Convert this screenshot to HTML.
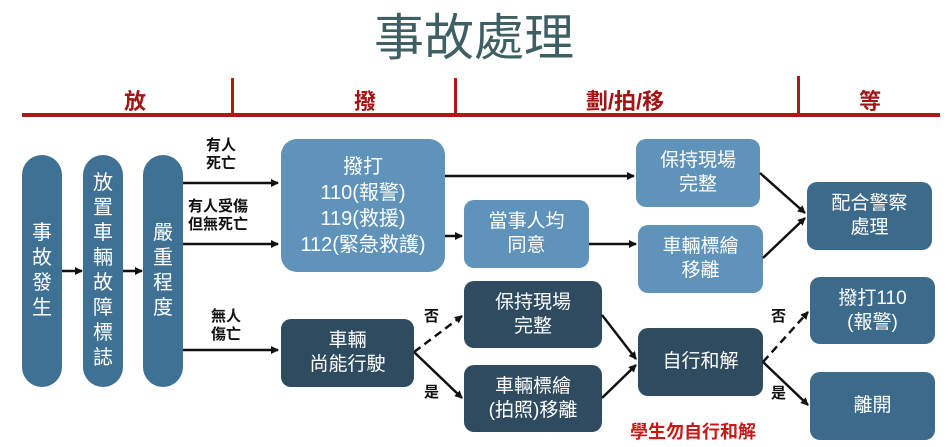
<!DOCTYPE html>
<html><head><meta charset="utf-8"><style>
body{margin:0;width:948px;height:447px;background:#fff;position:relative;overflow:hidden;font-family:"Liberation Sans","Noto Sans CJK TC",sans-serif}
.a{position:absolute}
.b{position:absolute;display:flex;align-items:center;justify-content:center;text-align:center;color:#fff;border-radius:10px;font-size:19px;line-height:24px}
.p{position:absolute;border-radius:20px;background:#3f7194;color:#fff;display:flex;align-items:center;justify-content:center;font-size:20px;line-height:25px;width:40px;text-align:center}
.lt{background:#5f93b9}.dk{background:#2e4b60}.md{background:#3c6a8b}
.lb{position:absolute;font-size:15px;font-weight:bold;line-height:18px;color:#111;text-align:center}
.h{position:absolute;top:84px;font-size:22px;font-weight:bold;color:#a31414;transform:translateX(-50%)}
</style></head><body>
<div class="a" style="left:0;width:948px;top:8px;text-align:center;font-size:50px;color:#3f6063;line-height:60px">事故處理</div>
<div class="a" style="left:22px;top:113px;width:918px;height:4px;background:#b01818"></div>
<div class="a" style="left:231px;top:78px;width:3px;height:37px;background:#b01818"></div>
<div class="a" style="left:454px;top:78px;width:3px;height:37px;background:#b01818"></div>
<div class="a" style="left:797px;top:76px;width:3px;height:39px;background:#b01818"></div>
<div class="h" style="left:135px">放</div>
<div class="h" style="left:365px">撥</div>
<div class="h" style="left:625px">劃/拍/移</div>
<div class="h" style="left:870px">等</div>

<div class="p" style="left:22px;top:155px;height:232px">事<br>故<br>發<br>生</div>
<div class="p" style="left:83px;top:155px;height:232px">放<br>置<br>車<br>輛<br>故<br>障<br>標<br>誌</div>
<div class="p" style="left:143px;top:155px;height:232px">嚴<br>重<br>程<br>度</div>

<div class="b lt" style="left:281px;top:139px;width:164px;height:133px;font-size:20px;line-height:26px;border-radius:16px">撥打<br>110(報警)<br>119(救援)<br>112(緊急救護)</div>
<div class="b dk" style="left:281px;top:319px;width:133px;height:68px">車輛<br>尚能行駛</div>
<div class="b lt" style="left:636px;top:139px;width:124px;height:68px">保持現場<br>完整</div>
<div class="b lt" style="left:464px;top:200px;width:125px;height:68px">當事人均<br>同意</div>
<div class="b lt" style="left:638px;top:225px;width:125px;height:68px">車輛標繪<br>移離</div>
<div class="b md" style="left:807px;top:182px;width:125px;height:68px">配合警察<br>處理</div>
<div class="b dk" style="left:464px;top:281px;width:138px;height:67px">保持現場<br>完整</div>
<div class="b dk" style="left:464px;top:365px;width:138px;height:67px">車輛標繪<br>(拍照)移離</div>
<div class="b dk" style="left:638px;top:328px;width:125px;height:68px">自行和解</div>
<div class="b md" style="left:810px;top:277px;width:125px;height:67px">撥打110<br>(報警)</div>
<div class="b md" style="left:810px;top:372px;width:125px;height:68px">離開</div>

<div class="lb" style="left:206px;top:137px">有人<br>死亡</div>
<div class="lb" style="left:188px;top:198px">有人受傷<br>但無死亡</div>
<div class="lb" style="left:211px;top:308px">無人<br>傷亡</div>
<div class="lb" style="left:424px;top:308px">否</div>
<div class="lb" style="left:424px;top:384px">是</div>
<div class="lb" style="left:771px;top:308px">否</div>
<div class="lb" style="left:771px;top:385px">是</div>
<div class="a" style="left:630px;top:418px;font-size:18px;font-weight:bold;color:#c81818">學生勿自行和解</div>

<svg class="a" style="left:0;top:0" width="948" height="447">
<defs><marker id="m" markerWidth="8" markerHeight="8" refX="7" refY="4" orient="auto" markerUnits="userSpaceOnUse"><path d="M0,0L8,4L0,8z" fill="#111"/></marker></defs>
<g stroke="#111" stroke-width="2.5" fill="none" marker-end="url(#m)">
<line x1="62" y1="271" x2="82" y2="271"/>
<line x1="123" y1="271" x2="142" y2="271"/>
<line x1="183" y1="183" x2="278" y2="183"/>
<line x1="183" y1="244" x2="278" y2="244"/>
<line x1="183" y1="350" x2="278" y2="350"/>
<line x1="445" y1="176" x2="634" y2="176"/>
<line x1="445" y1="236" x2="462" y2="236"/>
<line x1="589" y1="244" x2="636" y2="244"/>
<line x1="760" y1="173" x2="805" y2="213"/>
<line x1="763" y1="258" x2="805" y2="218"/>
<line x1="414" y1="352" x2="462" y2="316" stroke-dasharray="8,5"/>
<line x1="414" y1="352" x2="462" y2="398"/>
<line x1="602" y1="315" x2="636" y2="359"/>
<line x1="602" y1="398" x2="636" y2="365"/>
<line x1="763" y1="362" x2="808" y2="312" stroke-dasharray="8,5"/>
<line x1="763" y1="362" x2="808" y2="405"/>
</g></svg>
</body></html>
